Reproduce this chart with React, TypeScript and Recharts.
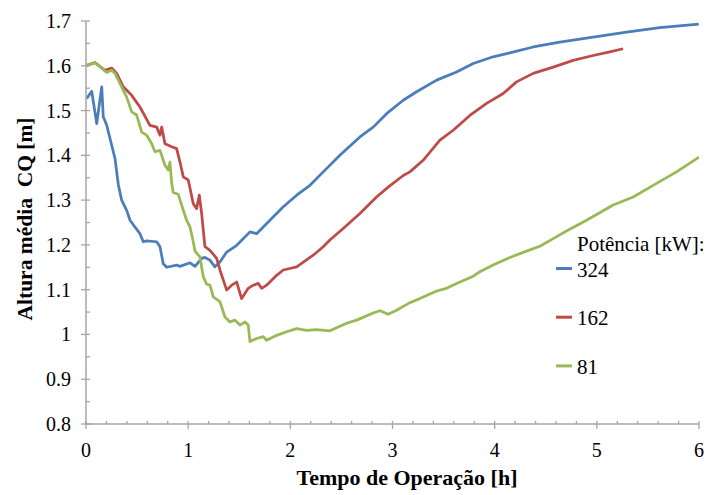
// Altura média CQ x Tempo de Operação (Recharts)

import { LineChart, Line, XAxis, YAxis, Legend } from "recharts";

// tempos [h] e alturas [m], por potência
const t324 = [0.007, 0.056, 0.105, 0.154, 0.169, 0.203, 0.251, 0.284, 0.316, 0.349, 0.398, 0.431, 0.479, 0.528, 0.561, 0.594, 0.692, 0.724, 0.756, 0.79, 0.887, 0.92, 1.018, 1.067, 1.132, 1.164, 1.213, 1.262, 1.311, 1.377, 1.475, 1.605, 1.67, 1.8, 1.931, 2.062, 2.192, 2.322, 2.485, 2.681, 2.811, 2.942, 3.105, 3.236, 3.432, 3.627, 3.79, 3.985, 4.149, 4.377, 4.638, 4.964, 5.291, 5.616, 5.998];
const h324 = [1.527, 1.543, 1.471, 1.553, 1.486, 1.467, 1.423, 1.393, 1.335, 1.3, 1.277, 1.255, 1.24, 1.225, 1.207, 1.209, 1.207, 1.196, 1.158, 1.15, 1.155, 1.152, 1.16, 1.152, 1.17, 1.172, 1.166, 1.151, 1.162, 1.184, 1.199, 1.229, 1.225, 1.255, 1.285, 1.311, 1.333, 1.363, 1.4, 1.441, 1.463, 1.493, 1.523, 1.542, 1.568, 1.586, 1.605, 1.62, 1.629, 1.642, 1.653, 1.664, 1.675, 1.685, 1.693];

const t162 = [0.007, 0.088, 0.186, 0.251, 0.3, 0.365, 0.447, 0.528, 0.626, 0.692, 0.724, 0.741, 0.773, 0.839, 0.887, 0.92, 0.952, 1.001, 1.05, 1.083, 1.109, 1.132, 1.164, 1.213, 1.279, 1.311, 1.377, 1.426, 1.475, 1.523, 1.588, 1.637, 1.686, 1.719, 1.768, 1.866, 1.931, 2.062, 2.224, 2.322, 2.387, 2.534, 2.681, 2.844, 2.958, 3.105, 3.17, 3.3, 3.464, 3.594, 3.757, 3.921, 4.083, 4.214, 4.377, 4.573, 4.768, 4.964, 5.127, 5.257];
const h162 = [1.601, 1.607, 1.59, 1.595, 1.583, 1.553, 1.534, 1.508, 1.467, 1.463, 1.445, 1.463, 1.426, 1.419, 1.415, 1.385, 1.352, 1.345, 1.292, 1.281, 1.311, 1.27, 1.196, 1.188, 1.17, 1.144, 1.099, 1.11, 1.117, 1.08, 1.103, 1.11, 1.114, 1.103, 1.11, 1.132, 1.144, 1.151, 1.177, 1.196, 1.211, 1.24, 1.27, 1.307, 1.329, 1.355, 1.363, 1.389, 1.434, 1.456, 1.489, 1.516, 1.538, 1.564, 1.583, 1.597, 1.612, 1.623, 1.631, 1.638];

const t81 = [0.007, 0.088, 0.203, 0.251, 0.284, 0.333, 0.398, 0.447, 0.496, 0.545, 0.594, 0.643, 0.675, 0.724, 0.773, 0.805, 0.822, 0.839, 0.854, 0.903, 0.936, 0.985, 1.018, 1.05, 1.067, 1.115, 1.148, 1.181, 1.213, 1.246, 1.311, 1.36, 1.409, 1.458, 1.507, 1.556, 1.588, 1.605, 1.67, 1.735, 1.768, 1.866, 1.964, 2.062, 2.159, 2.257, 2.387, 2.551, 2.649, 2.811, 2.877, 2.958, 3.04, 3.17, 3.268, 3.432, 3.529, 3.627, 3.79, 3.855, 3.985, 4.149, 4.312, 4.442, 4.573, 4.703, 4.899, 5.16, 5.356, 5.551, 5.78, 6.0];
const h81 = [1.601, 1.607, 1.585, 1.59, 1.583, 1.56, 1.53, 1.497, 1.49, 1.452, 1.445, 1.426, 1.408, 1.411, 1.378, 1.367, 1.385, 1.337, 1.317, 1.313, 1.289, 1.255, 1.24, 1.207, 1.186, 1.173, 1.129, 1.112, 1.11, 1.084, 1.073, 1.039, 1.028, 1.032, 1.021, 1.028, 1.021, 0.984, 0.991, 0.995, 0.987, 0.998, 1.006, 1.013, 1.009, 1.011, 1.008, 1.025, 1.032, 1.048, 1.053, 1.045, 1.054, 1.071, 1.08, 1.097, 1.103, 1.114, 1.13, 1.14, 1.155, 1.172, 1.186, 1.197, 1.214, 1.231, 1.255, 1.289, 1.307, 1.333, 1.363, 1.396];

const xTicks = [0, 0.2, 0.4, 0.6, 0.8, 1, 1.2, 1.4, 1.6, 1.8, 2, 2.2, 2.4, 2.6, 2.8, 3, 3.2, 3.4, 3.6, 3.8, 4, 4.2, 4.4, 4.6, 4.8, 5, 5.2, 5.4, 5.6, 5.8, 6];
const yTicks = [0.8, 0.85, 0.9, 0.95, 1, 1.05, 1.1, 1.15, 1.2, 1.25, 1.3, 1.35, 1.4, 1.45, 1.5, 1.55, 1.6, 1.65, 1.7];

const series = [
  { name: "324", t: t324, h: h324, color: "#4a7ebb" },
  { name: "162", t: t162, h: h162, color: "#be4b48" },
  { name: "81", t: t81, h: h81, color: "#98b954" },
];

const serif = { fontFamily: "'Liberation Serif', 'Times New Roman', Times, serif" };
const AXIS = "#a6a6a6";

function XTick({ x, y, payload }: any) {
  const v = payload.value as number;
  const major = Math.abs(v - Math.round(v)) < 1e-6;
  return (
    <g>
      <line x1={x} x2={x} y1={y - 3} y2={major ? y + 5 : y} stroke={AXIS} strokeWidth={1.3} />
      {major && (
        <text x={x} y={y + 33} textAnchor="middle" style={serif} fontSize={20} fill="#000">
          {Math.round(v)}
        </text>
      )}
    </g>
  );
}

function YTick({ x, y, payload }: any) {
  const v = payload.value as number;
  const major = Math.abs(v * 10 - Math.round(v * 10)) < 1e-6;
  return (
    <g>
      <line x1={major ? x - 5 : x} x2={x + 4} y1={y} y2={y} stroke={AXIS} strokeWidth={1.3} />
      {major && (
        <text x={x - 15} y={y + 7} textAnchor="end" style={serif} fontSize={20} fill="#000">
          {String(Number(v.toFixed(1)))}
        </text>
      )}
    </g>
  );
}

function LegendBox() {
  return (
    <svg width={162} height={160} style={{ display: "block" }}>
      <text x={27} y={26} style={serif} fontSize={21} fill="#000">
        Potência [kW]:
      </text>
      {series.map((s, i) => (
        <g key={s.name}>
          <line x1={6} x2={22} y1={43.5 + i * 48.7} y2={43.5 + i * 48.7} stroke={s.color} strokeWidth={3} />
          <text x={27} y={51.5 + i * 48.7} style={serif} fontSize={21} fill="#000">
            {s.name}
          </text>
        </g>
      ))}
    </svg>
  );
}

export default function App() {
  return (
    <div style={{ position: "absolute", left: 0, top: 0, width: 712, height: 495, background: "#fff" }}>
      <LineChart width={712} height={495} margin={{ top: 21, right: 13, bottom: 0, left: 0 }}>
        <XAxis
          type="number"
          dataKey="x"
          domain={[0, 6]}
          ticks={xTicks}
          interval={0}
          height={71}
          tickSize={0}
          tickMargin={0}
          tickLine={false}
          axisLine={{ stroke: AXIS, strokeWidth: 1.5 }}
          tick={<XTick />}
          allowDataOverflow
          label={{
            content: () => (
              <text x={407} y={485} textAnchor="middle" style={serif} fontSize={22} fontWeight="bold" fill="#000">
                Tempo de Operação [h]
              </text>
            ),
          }}
        />
        <YAxis
          type="number"
          domain={[0.8, 1.7]}
          ticks={yTicks}
          interval={0}
          width={86}
          tickSize={0}
          tickMargin={0}
          tickLine={false}
          axisLine={{ stroke: AXIS, strokeWidth: 1.5 }}
          tick={<YTick />}
          allowDataOverflow
          label={{
            content: () => (
              <text
                transform="translate(32,219) rotate(-90)"
                textAnchor="middle"
                fontSize={21.5}
                fontWeight="bold"
                fill="#000"
                style={{ ...serif, whiteSpace: "pre" }}
              >
                {"Altura média  CQ [m]"}
              </text>
            ),
          }}
        />
        <Legend
          layout="horizontal"
          verticalAlign="middle"
          align="center"
          wrapperStyle={{ position: "absolute", left: 550, top: 225, width: 162, height: 160 }}
          content={() => <LegendBox />}
        />
        {series.map((s) => (
          <Line
            key={s.name}
            name={s.name}
            data={s.t.map((t, i) => ({ x: t, y: s.h[i] }))}
            dataKey="y"
            type="linear"
            stroke={s.color}
            strokeWidth={2.75}
            strokeLinejoin="round"
            dot={false}
            activeDot={false}
            isAnimationActive={false}
          />
        ))}
      </LineChart>
    </div>
  );
}
